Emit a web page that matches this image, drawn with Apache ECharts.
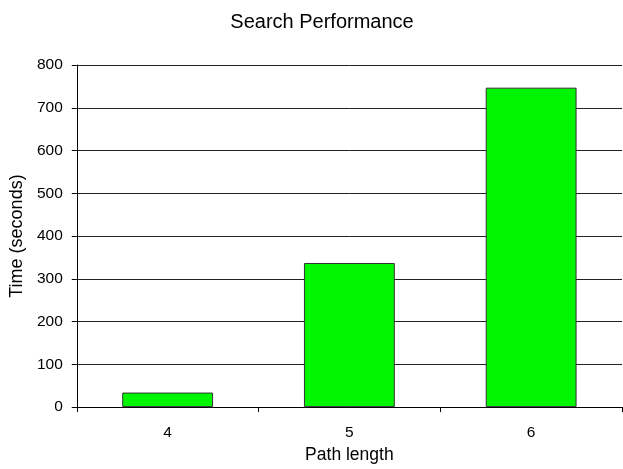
<!DOCTYPE html>
<html>
<head>
<meta charset="utf-8">
<script src="https://cdn.jsdelivr.net/npm/echarts@6/dist/echarts.min.js"></script>
<style>
  html, body { margin: 0; padding: 0; background: #fff; }
  #chart { width: 623px; height: 469px; }
</style>
</head>
<body>
<div id="chart"></div>
<script>
// data
const pathLengths = ['4', '5', '6'];
const timeSeconds = [34, 337, 747];
const yTicks = [0, 800, 100]; // min, max, interval

const chart = echarts.init(document.getElementById('chart'));
const font = 'Liberation Sans, Arial, sans-serif';

let option = {
  backgroundColor: '#fff',
  animation: false,
  title: {
    text: 'Search Performance',
    left: 317,
    textAlign: 'center',
    top: 7,
    textStyle: { fontFamily: font, fontSize: 20, fontWeight: 'normal', color: '#000' }
  },
  grid: { left: 76, right: 1, top: 65, bottom: 59 },
  xAxis: {
    type: 'category',
    data: pathLengths,
    name: 'Path length',
    nameLocation: 'middle',
    nameGap: 36,
    nameTextStyle: { fontFamily: font, fontSize: 17.5, color: '#000' },
    axisLine: { lineStyle: { color: '#000', width: 1 } },
    axisTick: { show: true, length: 5, lineStyle: { color: '#000' } },
    axisLabel: { fontFamily: font, fontSize: 15.5, color: '#000', margin: 18 }
  },
  yAxis: {
    type: 'value',
    min: yTicks[0],
    max: yTicks[1],
    interval: yTicks[2],
    name: 'Time (seconds)',
    nameLocation: 'middle',
    nameGap: 50,
    nameTextStyle: { fontFamily: font, fontSize: 18, color: '#000' },
    axisLine: { show: true, lineStyle: { color: '#000', width: 1 } },
    axisTick: { show: true, length: 5, lineStyle: { color: '#000' } },
    axisLabel: { fontFamily: font, fontSize: 15.5, color: '#000', margin: 14 },
    splitLine: { show: true, lineStyle: { color: '#222', width: 1 } }
  },
  series: [{
    type: 'bar',
    data: timeSeconds,
    barWidth: '50%',
    itemStyle: { color: '#00f500', borderColor: '#333', borderWidth: 1 }
  }]
};

chart.setOption(option);
</script>
</body>
</html>
